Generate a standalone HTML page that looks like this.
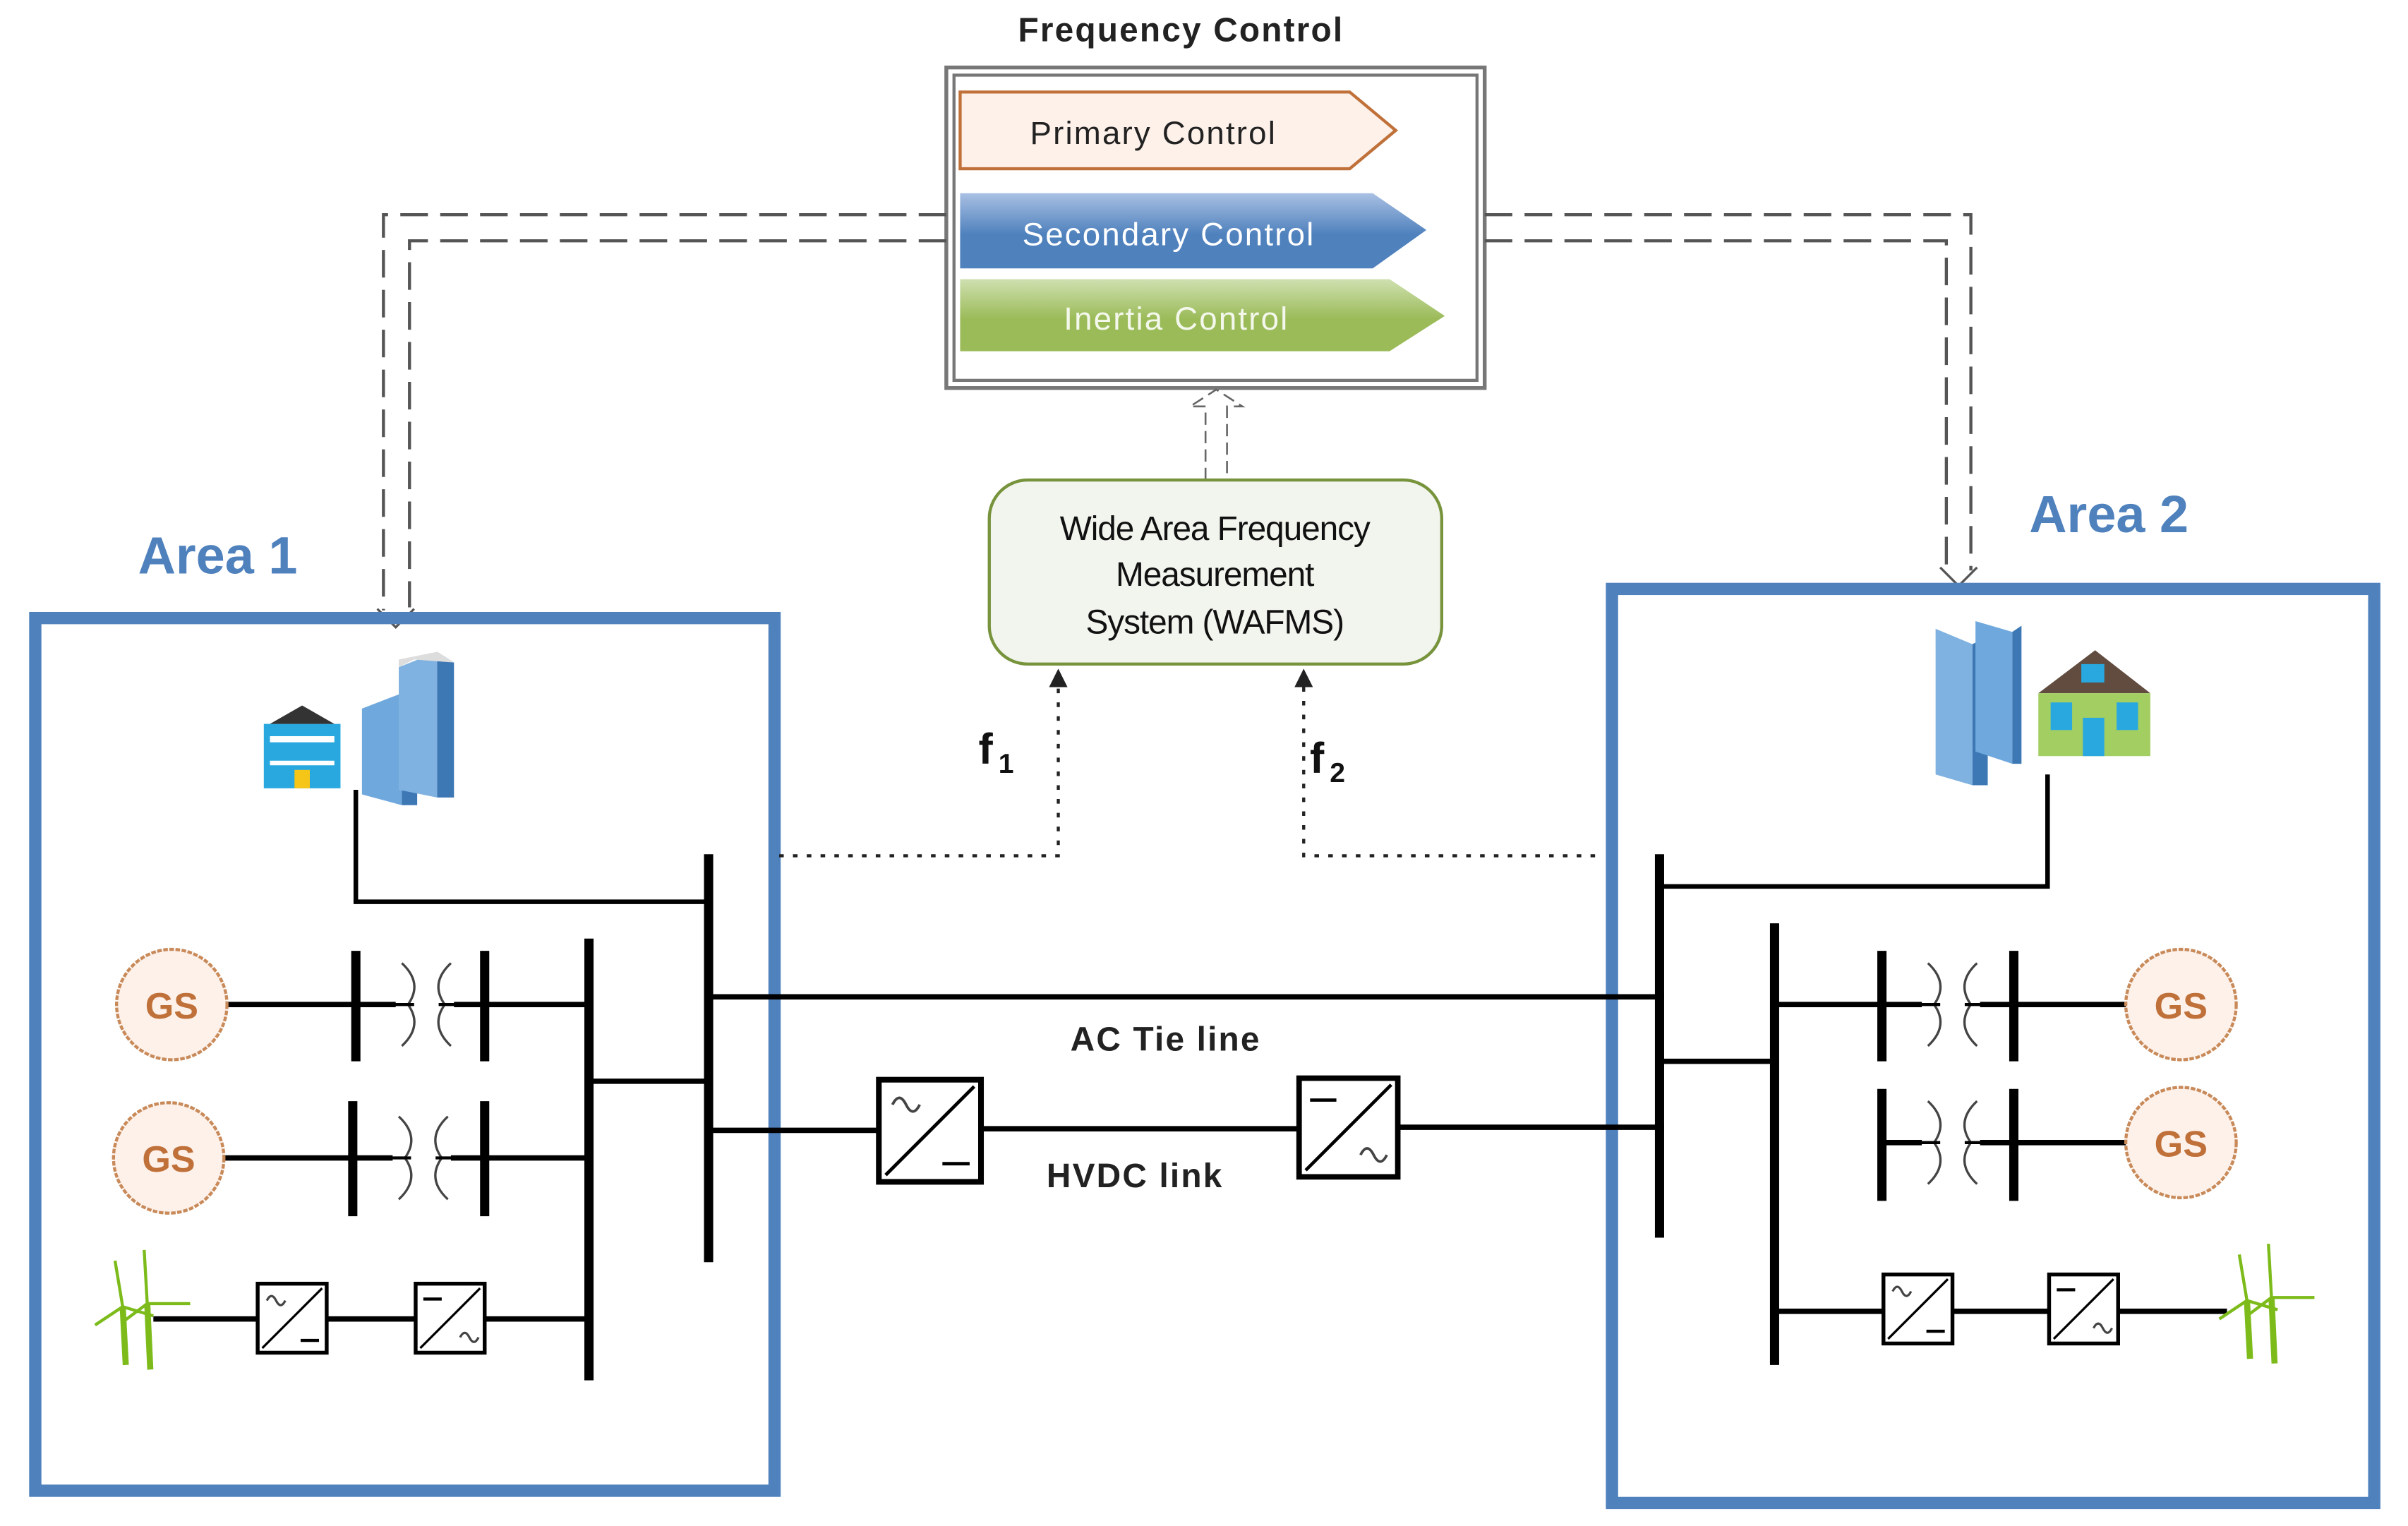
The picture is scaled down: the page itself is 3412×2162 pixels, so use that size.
<!DOCTYPE html>
<html><head><meta charset="utf-8"><style>
html,body{margin:0;padding:0;background:#fff;}
svg{display:block;}
text{font-family:"Liberation Sans",sans-serif;}
</style></head><body>
<svg width="3412" height="2162" viewBox="0 0 1570 995" preserveAspectRatio="none" xmlns="http://www.w3.org/2000/svg">
<defs>
<linearGradient id="gb" x1="0" y1="0" x2="0" y2="1"><stop offset="0" stop-color="#a9c0e3"/><stop offset="0.55" stop-color="#4f81bd"/><stop offset="1" stop-color="#4f81bd"/></linearGradient>
<linearGradient id="gg" x1="0" y1="0" x2="0" y2="1"><stop offset="0" stop-color="#cfe0b0"/><stop offset="0.55" stop-color="#9bbb59"/><stop offset="1" stop-color="#9bbb59"/></linearGradient>
<g id="conv1"><rect x="0" y="0" width="45" height="45" fill="#fff" stroke="#000" stroke-width="2.5"/><line x1="3" y1="42" x2="42" y2="3" stroke="#000" stroke-width="1.5"/></g>
</defs>

<text x="770" y="27" font-size="22" font-weight="bold" text-anchor="middle" fill="#222" letter-spacing="1">Frequency Control</text>
<rect x="617" y="44" width="351" height="209" fill="#fff" stroke="#777" stroke-width="2.5"/>
<rect x="622" y="49" width="341" height="199" fill="none" stroke="#777" stroke-width="2"/>
<polygon points="626,60 880,60 910,85 880,110 626,110" fill="#fdf1ea" stroke="#c0713a" stroke-width="2"/>
<text x="752" y="94" font-size="21" text-anchor="middle" fill="#222" letter-spacing="1">Primary Control</text>
<polygon points="626,126 895,126 930,150 895,175 626,175" fill="url(#gb)"/>
<text x="762" y="160" font-size="21" text-anchor="middle" fill="#fff" letter-spacing="1">Secondary Control</text>
<polygon points="626,182 906,182 942,206 906,229 626,229" fill="url(#gg)"/>
<text x="767" y="215" font-size="21" text-anchor="middle" fill="#f4f8ec" letter-spacing="1">Inertia Control</text>

<path d="M786,313 V265 H776 L793,254 L810,265 H800 V313" fill="#fff" stroke="#666" stroke-width="1.2" stroke-dasharray="8,4"/>

<rect x="645" y="313" width="295" height="120" rx="25" fill="#f2f5ee" stroke="#77933c" stroke-width="2"/>
<text x="792" y="352" font-size="22" text-anchor="middle" fill="#111" letter-spacing="-0.5">Wide Area Frequency</text>
<text x="792" y="382" font-size="22" text-anchor="middle" fill="#111" letter-spacing="-0.5">Measurement</text>
<text x="792" y="413" font-size="22" text-anchor="middle" fill="#111" letter-spacing="-0.5">System (WAFMS)</text>

<g fill="none" stroke="#555" stroke-width="2" stroke-dasharray="18,8">
<path d="M617,140 H250 V398"/>
<path d="M617,157 H267 V396"/>
<path d="M968,140 H1285 V372"/>
<path d="M968,157 H1269 V372"/>
</g>
<path d="M246,397 L258,409 L270,397" fill="none" stroke="#555" stroke-width="1.5"/>
<path d="M1265,370 L1277,382 L1289,370" fill="none" stroke="#555" stroke-width="1.5"/>

<text x="90" y="374" font-size="34" font-weight="bold" fill="#4f81bd">Area 1</text>
<text x="1323" y="347" font-size="34" font-weight="bold" fill="#4f81bd">Area 2</text>
<rect x="23" y="403" width="482" height="569" fill="none" stroke="#4f81bd" stroke-width="8"/>
<rect x="1051" y="384" width="497" height="596" fill="none" stroke="#4f81bd" stroke-width="8"/>

<g fill="none" stroke="#222" stroke-width="2" stroke-dasharray="3,6">
<path d="M508,558 H690 V448"/>
<path d="M1040,558 H850 V448"/>
</g>
<polygon points="690,436 684,448 696,448" fill="#222"/>
<polygon points="850,436 844,448 856,448" fill="#222"/>
<text x="638" y="498" font-size="28" font-weight="bold" fill="#111">f</text><text x="651" y="504" font-size="18" font-weight="bold" fill="#111">1</text>
<text x="854" y="504" font-size="28" font-weight="bold" fill="#111">f</text><text x="867" y="510" font-size="18" font-weight="bold" fill="#111">2</text>

<g>
<rect x="172" y="472" width="50" height="42" fill="#29a8e0"/>
<polygon points="176,472 197,460 218,472" fill="#333"/>
<rect x="176" y="480" width="42" height="4" fill="#fff"/><rect x="176" y="496" width="42" height="3" fill="#fff"/>
<rect x="192" y="502" width="10" height="12" fill="#f5c518"/>
<polygon points="236,462 262,452 262,525 236,518" fill="#6fa8dc"/>
<polygon points="262,452 272,458 272,525 262,525" fill="#3d78b5"/>
<polygon points="260,435 285,425 285,520 260,515" fill="#7fb2e0"/>
<polygon points="285,425 296,432 296,520 285,520" fill="#3d78b5"/>
<polygon points="260,435 270,430 296,432 285,425 260,430" fill="#ddd"/>
</g>
<g>
<polygon points="1262,410 1286,420 1286,512 1262,505" fill="#7fb2e0"/>
<polygon points="1286,420 1296,415 1296,512 1286,512" fill="#3d78b5"/>
<polygon points="1288,405 1312,412 1312,498 1288,490" fill="#6fa8dc"/>
<polygon points="1312,412 1318,408 1318,498 1312,498" fill="#3d78b5"/>
<polygon points="1329,452 1366,424 1402,452" fill="#614c3f"/>
<rect x="1329" y="452" width="73" height="41" fill="#a3ce62"/>
<rect x="1357" y="433" width="15" height="12" fill="#29a8e0"/>
<rect x="1337" y="458" width="14" height="18" fill="#29a8e0"/>
<rect x="1380" y="458" width="14" height="18" fill="#29a8e0"/>
<rect x="1358" y="468" width="14" height="25" fill="#29a8e0"/>
</g>

<g stroke="#000" fill="none">
<path d="M232,515 V588 H462" stroke-width="3"/>
<line x1="462" y1="557" x2="462" y2="823" stroke-width="6"/>
<line x1="384" y1="612" x2="384" y2="900" stroke-width="6"/>
<line x1="384" y1="705" x2="462" y2="705" stroke-width="3.5"/>
<line x1="148" y1="655" x2="384" y2="655" stroke-width="3.5"/>
<line x1="146" y1="755" x2="384" y2="755" stroke-width="3.5"/>
<line x1="232" y1="620" x2="232" y2="692" stroke-width="6"/>
<line x1="316" y1="620" x2="316" y2="692" stroke-width="6"/>
<line x1="230" y1="718" x2="230" y2="793" stroke-width="6"/>
<line x1="316" y1="718" x2="316" y2="793" stroke-width="6"/>
<line x1="100" y1="860" x2="384" y2="860" stroke-width="3.5"/>
<line x1="462" y1="650" x2="1085" y2="650" stroke-width="3.5"/>
<line x1="462" y1="737" x2="573" y2="737" stroke-width="3.5"/>
<line x1="640" y1="736" x2="847" y2="736" stroke-width="3.5"/>
<line x1="911" y1="735" x2="1085" y2="735" stroke-width="3.5"/>
<path d="M1335,505 V578 H1082" stroke-width="3"/>
<line x1="1082" y1="557" x2="1082" y2="807" stroke-width="6"/>
<line x1="1157" y1="602" x2="1157" y2="890" stroke-width="6"/>
<line x1="1082" y1="692" x2="1157" y2="692" stroke-width="3.5"/>
<line x1="1157" y1="655" x2="1386" y2="655" stroke-width="3.5"/>
<line x1="1227" y1="745" x2="1386" y2="745" stroke-width="3.5"/>
<line x1="1227" y1="620" x2="1227" y2="692" stroke-width="6"/>
<line x1="1313" y1="620" x2="1313" y2="692" stroke-width="6"/>
<line x1="1227" y1="710" x2="1227" y2="783" stroke-width="6"/>
<line x1="1313" y1="710" x2="1313" y2="783" stroke-width="6"/>
<line x1="1157" y1="855" x2="1452" y2="855" stroke-width="3.5"/>
</g>
<g fill="#fff" stroke="#444" stroke-width="1.5">
<g id="tx"><rect x="258" y="626" width="38" height="60" fill="#fff" stroke="none"/>
<path d="M262,628 Q276,641 266,655 Q276,669 262,682" fill="none"/>
<path d="M294,628 Q280,641 290,655 Q280,669 294,682" fill="none"/>
<line x1="232" y1="655" x2="270" y2="655" stroke="#000" stroke-width="2"/><line x1="286" y1="655" x2="316" y2="655" stroke="#000" stroke-width="2"/></g>
<use href="#tx" transform="translate(-2,100)"/>
<use href="#tx" transform="translate(995,0)"/>
<use href="#tx" transform="translate(995,90)"/>
</g>
<g font-size="24" font-weight="bold" text-anchor="middle" fill="#c0713a">
<ellipse cx="112" cy="655" rx="36" ry="36" fill="#fdf1ea" stroke="#c98a5a" stroke-width="2" stroke-dasharray="3,1"/><text x="112" y="664">GS</text>
<ellipse cx="110" cy="755" rx="36" ry="36" fill="#fdf1ea" stroke="#c98a5a" stroke-width="2" stroke-dasharray="3,1"/><text x="110" y="764">GS</text>
<ellipse cx="1422" cy="655" rx="36" ry="36" fill="#fdf1ea" stroke="#c98a5a" stroke-width="2" stroke-dasharray="3,1"/><text x="1422" y="664">GS</text>
<ellipse cx="1422" cy="745" rx="36" ry="36" fill="#fdf1ea" stroke="#c98a5a" stroke-width="2" stroke-dasharray="3,1"/><text x="1422" y="754">GS</text>
</g>
<g font-size="20" fill="#000">
<use href="#conv1" transform="translate(168,837)"/><path d="M174,848 q3,-6 6,0 t6,0" fill="none" stroke="#444" stroke-width="1.5"/><line x1="196" y1="874" x2="208" y2="874" stroke="#000" stroke-width="2"/>
<use href="#conv1" transform="translate(271,837)"/><line x1="276" y1="847" x2="288" y2="847" stroke="#000" stroke-width="2"/><path d="M300,872 q3,-6 6,0 t6,0" fill="none" stroke="#444" stroke-width="1.5"/>
<g transform="translate(573,704) scale(1.48)"><use href="#conv1"/><path d="M6,11 q3,-6 6,0 t6,0" fill="none" stroke="#444" stroke-width="1.2"/><line x1="28" y1="37" x2="40" y2="37" stroke="#000" stroke-width="1.5"/></g>
<g transform="translate(847,703) scale(1.43)"><use href="#conv1"/><line x1="5" y1="10" x2="17" y2="10" stroke="#000" stroke-width="1.5"/><path d="M28,35 q3,-6 6,0 t6,0" fill="none" stroke="#444" stroke-width="1.2"/></g>
<use href="#conv1" transform="translate(1228,831)"/><path d="M1234,842 q3,-6 6,0 t6,0" fill="none" stroke="#444" stroke-width="1.5"/><line x1="1256" y1="868" x2="1268" y2="868" stroke="#000" stroke-width="2"/>
<use href="#conv1" transform="translate(1336,831)"/><line x1="1341" y1="841" x2="1353" y2="841" stroke="#000" stroke-width="2"/><path d="M1365,866 q3,-6 6,0 t6,0" fill="none" stroke="#444" stroke-width="1.5"/>
</g>
<text x="760" y="685" font-size="22" font-weight="bold" text-anchor="middle" fill="#222" letter-spacing="1">AC Tie line</text>
<text x="740" y="774" font-size="22" font-weight="bold" text-anchor="middle" fill="#222" letter-spacing="1">HVDC link</text>
<g stroke="#7cbb1a" fill="none">
<g id="wt"><line x1="82" y1="890" x2="80" y2="852" stroke-width="4"/><line x1="98" y1="893" x2="96" y2="850" stroke-width="4"/>
<line x1="80" y1="852" x2="75" y2="822" stroke-width="2"/><line x1="80" y1="852" x2="62" y2="864" stroke-width="2"/><line x1="80" y1="852" x2="100" y2="858" stroke-width="2"/>
<line x1="96" y1="850" x2="94" y2="815" stroke-width="2"/><line x1="96" y1="850" x2="80" y2="862" stroke-width="2"/><line x1="96" y1="850" x2="124" y2="850" stroke-width="2"/></g>
<use href="#wt" transform="translate(1385,-4)"/>
</g>
</svg>
</body></html>
